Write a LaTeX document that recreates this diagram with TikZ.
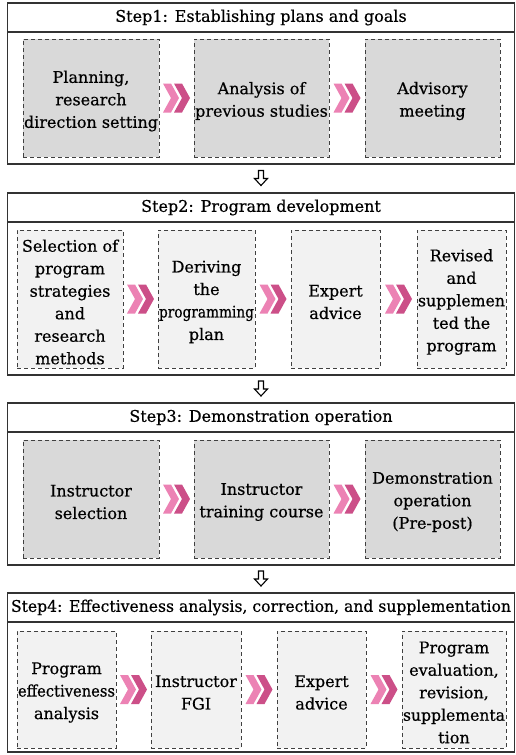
\documentclass[tikz,border=0pt]{standalone}
\usepackage{fontspec}
\usepackage{graphicx}
\setmainfont{DejaVu Serif}[FakeBold=0.5]
\usetikzlibrary{calc}
\definecolor{boxdark}{HTML}{D9D9D9}
\definecolor{boxlight}{HTML}{F2F2F2}
\definecolor{chevA}{HTML}{EC82B4}
\definecolor{chevB}{HTML}{CC4F88}
\definecolor{framec}{HTML}{333333}
\definecolor{dashc}{HTML}{404040}
\newsavebox\fitbox
\newcommand\fitline[2]{\sbox\fitbox{#2}\ifdim\wd\fitbox>#1\pgfmathsetmacro\fitratio{#1/\wd\fitbox}\scalebox{\fitratio}[1]{#2}\else\usebox\fitbox\fi}
% box node (name) and its text node (name t)
\newcommand\procbox[7]{%
  \node[proc,#2,minimum width=#5pt,minimum height=#6pt] (#1) at (#3,#4) {};
  \node[proctext] (#1t) at ([yshift=-3pt]#1.center) {#7};}
\begin{document}
\begin{tikzpicture}[x=1pt,y=-1pt,
  stage/.style={draw=framec, line width=1.1pt, minimum width=507pt, inner sep=0pt},
  titlebar/.style={draw=framec, line width=1.1pt, minimum width=507pt, minimum height=29pt, inner sep=0pt, font=\fontsize{16}{19}\selectfont},
  proc/.style={draw=dashc, dash pattern=on 4pt off 3pt, line width=0.9pt, inner sep=0pt},
  proctext/.style={inner sep=0pt, align=center, font=\fontsize{16}{22.5}\selectfont},
  dark/.style={fill=boxdark}, light/.style={fill=boxlight},
  downarr/.style={draw=black, line width=1.1pt, fill=white, line join=miter},
  chevrons/.pic={
    \fill[chevA] (-13.5,-14.5) -- (-5.5,-14.5) -- (2.5,0) -- (-5.5,14.5) -- (-13.5,14.5) -- (-5.5,0) -- cycle;
    \fill[chevB] (-2.5,-14.5) -- (5.5,-14.5) -- (13.5,0) -- (5.5,14.5) -- (-2.5,14.5) -- (5.5,0) -- cycle;
  }
]
\useasboundingbox[fill=white] (0,0) rectangle (515,755);

% Step frames
\node[stage, minimum height=161pt] (s1) at (261,83.5) {};
\node[titlebar, anchor=north] (t1) at (s1.north) {Step1: Establishing plans and goals};
\node[stage, minimum height=182pt] (s2) at (261,284) {};
\node[titlebar, anchor=north] (t2) at (s2.north) {Step2: Program development};
\node[stage, minimum height=162pt] (s3) at (261,484) {};
\node[titlebar, anchor=north] (t3) at (s3.north) {Step3: Demonstration operation};
\node[stage, minimum height=159pt] (s4) at (261,672.5) {};
\node[titlebar, anchor=north] (t4) at (s4.north) {\fitline{500pt}{Step4: Effectiveness analysis, correction, and supplementation}};

% Step 1 boxes
\procbox{b11}{dark}{91}{98}{136}{118}{Planning,\\research\\\fitline{134pt}{direction setting}}
\procbox{b12}{dark}{261.5}{98}{135}{118}{Analysis of\\\fitline{133pt}{previous studies}}
\procbox{b13}{dark}{432.5}{98}{135}{118}{Advisory\\meeting}

% Step 2 boxes
\procbox{b21}{light}{70}{299}{106}{138}{\fitline{103pt}{Selection of}\\program\\strategies\\and\\research\\methods}
\procbox{b22}{light}{206.5}{299}{97}{138}{Deriving\\the\\\fitline{95pt}{programming}\\plan}
\procbox{b23}{light}{335.5}{299}{89}{138}{Expert\\advice}
\procbox{b24}{light}{461.5}{299}{89}{138}{Revised\\and\\\fitline{87pt}{supplemen}\\ted the\\program}

% Step 3 boxes
\procbox{b31}{dark}{91}{499}{136}{118}{Instructor\\selection}
\procbox{b32}{dark}{261.5}{499}{135}{118}{Instructor\\\fitline{133pt}{training course}}
\procbox{b33}{dark}{432.5}{499}{135}{118}{\fitline{133pt}{Demonstration}\\operation\\(Pre-post)}

% Step 4 boxes
\procbox{b41}{light}{66.5}{689.5}{99}{117}{Program\\\fitline{97pt}{effectiveness}\\analysis}
\procbox{b42}{light}{196}{689.5}{90}{117}{\fitline{88pt}{Instructor}\\FGI}
\procbox{b43}{light}{321.5}{689.5}{89}{117}{Expert\\advice}
\procbox{b44}{light}{454}{689.5}{104}{117}{Program\\\fitline{102pt}{evaluation,}\\revision,\\\fitline{102pt}{supplementa}\\tion}

% chevrons
\pic at ($(b11.east)!0.5!(b12.west)$) {chevrons};
\pic at ($(b12.east)!0.5!(b13.west)$) {chevrons};
\pic at ($(b21.east)!0.5!(b22.west)$) {chevrons};
\pic at ($(b22.east)!0.5!(b23.west)$) {chevrons};
\pic at ($(b23.east)!0.5!(b24.west)$) {chevrons};
\pic at ($(b31.east)!0.5!(b32.west)$) {chevrons};
\pic at ($(b32.east)!0.5!(b33.west)$) {chevrons};
\pic at ($(b41.east)!0.5!(b42.west)$) {chevrons};
\pic at ($(b42.east)!0.5!(b43.west)$) {chevrons};
\pic at ($(b43.east)!0.5!(b44.west)$) {chevrons};

% down arrows between steps
\coordinate (d1) at ($(s1.south)!0.5!(s2.north)$);
\coordinate (d2) at ($(s2.south)!0.5!(s3.north)$);
\coordinate (d3) at ($(s3.south)!0.5!(s4.north)$);
\foreach \d in {d1,d2,d3}{
  \draw[downarr, shift={(\d)}] (-2.5,-8) -- (2.5,-8) -- (2.5,0) -- (6.5,0) -- (0,7) -- (-6.5,0) -- (-2.5,0) -- cycle;
}
\end{tikzpicture}
\end{document}
